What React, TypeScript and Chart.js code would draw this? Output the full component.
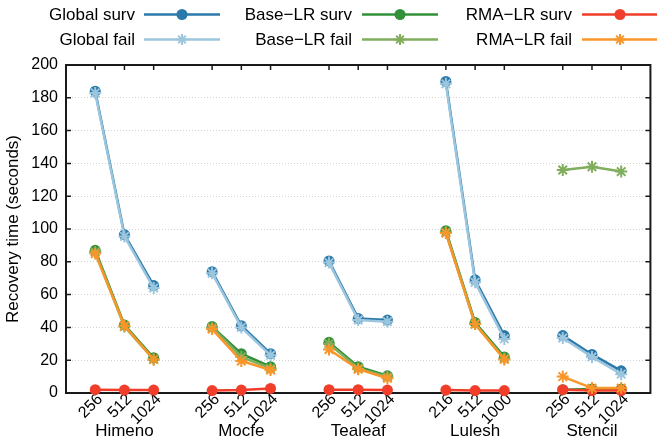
import React, { useEffect, useRef } from 'react';
import { Chart, registerables } from 'chart.js';

Chart.register(...registerables);

const FONT = '"Liberation Sans", Arial, Helvetica, sans-serif';

const groups = ['Himeno', 'Mocfe', 'Tealeaf', 'Lulesh', 'Stencil'];
const sizeLabels = [
  ['256', '512', '1024'],
  ['256', '512', '1024'],
  ['256', '512', '1024'],
  ['216', '512', '1000'],
  ['256', '512', '1024'],
];

const globalSurv = [[184, 96.5, 65.5], [74, 41, 24], [80.5, 45.5, 44.5], [190, 69, 35], [35, 23.5, 13.5]];
const globalFail = [[183, 95.5, 64], [73, 40, 23], [79.5, 44.5, 43.5], [188.5, 67.5, 33], [33.5, 22, 11.5]];
const baseSurv = [[87, 41.5, 21.5], [40.5, 24, 16], [31, 16, 10.5], [99, 43, 22], [2, 2.5, 2.5]];
const baseFail = [[86, 40.5, 20.5], [40, 22, 15], [30, 15, 10], [98, 42, 21], [136, 138, 135]];
const rmaSurv = [[2, 1.8, 1.8], [1.5, 1.8, 2.8], [2, 2, 1.8], [1.8, 1.5, 1.5], [2, 1.5, 1.5]];
const rmaFail = [[85, 41, 20.5], [39, 19.5, 14], [26.5, 14.5, 9], [97.5, 42, 20.5], [10, 3, 3]];

const seriesNames = ['Global surv', 'Global fail', 'Base\u2212LR surv', 'Base\u2212LR fail', 'RMA\u2212LR surv', 'RMA\u2212LR fail'];
const seriesColors = ['#2a79aa', '#9cc6de', '#33903a', '#80ae5c', '#f03e2a', '#f8962a'];
const seriesData = [globalSurv, globalFail, baseSurv, baseFail, rmaSurv, rmaFail];

function buildLabels(): string[] {
  const out: string[] = [''];
  sizeLabels.forEach((g) => {
    g.forEach((l) => out.push(l));
    out.push('');
  });
  return out;
}

function buildValues(vals: number[][]): (number | null)[] {
  const out: (number | null)[] = [null];
  vals.forEach((g) => {
    g.forEach((v) => out.push(v));
    out.push(null);
  });
  return out;
}

function drawMarker(ctx: CanvasRenderingContext2D, x: number, y: number, isStar: boolean, color: string) {
  ctx.save();
  if (isStar) {
    const r = 5.5;
    ctx.strokeStyle = color;
    ctx.lineWidth = 2;
    ctx.beginPath();
    for (let k = 0; k < 4; k++) {
      const a = (k * Math.PI) / 4;
      ctx.moveTo(x - r * Math.cos(a), y - r * Math.sin(a));
      ctx.lineTo(x + r * Math.cos(a), y + r * Math.sin(a));
    }
    ctx.stroke();
  } else {
    ctx.fillStyle = color;
    ctx.beginPath();
    ctx.arc(x, y, 5.5, 0, Math.PI * 2);
    ctx.fill();
  }
  ctx.restore();
}

const framePlugin = {
  id: 'frame',
  beforeDatasetsDraw(chart: any) {
    const { ctx, chartArea } = chart;
    const { left, right, top, bottom } = chartArea;
    const xs = chart.scales.x;
    const ys = chart.scales.y;
    ctx.save();
    ctx.strokeStyle = '#1a1a1a';
    ctx.lineWidth = 1.5;
    ctx.beginPath();
    for (let v = 20; v < 200; v += 20) {
      const py = ys.getPixelForValue(v);
      ctx.moveTo(left, py);
      ctx.lineTo(left + 5, py);
      ctx.moveTo(right, py);
      ctx.lineTo(right - 5, py);
    }
    const labels = chart.data.labels as string[];
    labels.forEach((l, i) => {
      if (!l) return;
      const px = xs.getPixelForValue(i);
      ctx.moveTo(px, top);
      ctx.lineTo(px, top + 5);
      ctx.moveTo(px, bottom);
      ctx.lineTo(px, bottom - 5);
    });
    ctx.stroke();
    ctx.lineWidth = 2;
    ctx.beginPath();
    ctx.rect(left, top, right - left, bottom - top);
    ctx.stroke();
    ctx.restore();
  },
  afterDraw(chart: any) {
    const { ctx } = chart;
    const xs = chart.scales.x;
    ctx.save();
    ctx.fillStyle = '#000';
    ctx.font = `17px ${FONT}`;
    ctx.textAlign = 'center';
    ctx.textBaseline = 'alphabetic';
    let idx = 0;
    groups.forEach((g) => {
      const mid = idx + 2;
      ctx.fillText(g, xs.getPixelForValue(mid), 436);
      idx += 4;
    });
    const textRight = [135, 352, 572];
    const lineStart = [144, 362, 582];
    const rowY = [14.5, 39.5];
    const lineLen = 76;
    chart.data.datasets.forEach((ds: any, i: number) => {
      const col = Math.floor(i / 2);
      const row = i % 2;
      const y = rowY[row];
      ctx.fillStyle = '#000';
      ctx.font = `17px ${FONT}`;
      ctx.textAlign = 'right';
      ctx.textBaseline = 'middle';
      ctx.fillText(ds.label, textRight[col], y + 1);
      ctx.strokeStyle = ds.borderColor;
      ctx.lineWidth = 2.5;
      ctx.beginPath();
      ctx.moveTo(lineStart[col], y);
      ctx.lineTo(lineStart[col] + lineLen, y);
      ctx.stroke();
      drawMarker(ctx, lineStart[col] + lineLen / 2, y, row === 1, ds.borderColor);
    });
    ctx.restore();
  },
};

export default function App() {
  const canvasRef = useRef<HTMLCanvasElement | null>(null);

  useEffect(() => {
    document.body.style.margin = '0';
    const canvas = canvasRef.current;
    if (!canvas) return;
    const labels = buildLabels();
    const datasets = seriesData.map((vals, i) => {
      const isStar = i % 2 === 1;
      return {
        label: seriesNames[i],
        data: buildValues(vals),
        borderColor: seriesColors[i],
        backgroundColor: seriesColors[i],
        pointBackgroundColor: seriesColors[i],
        pointBorderColor: seriesColors[i],
        pointStyle: isStar ? 'star' : 'circle',
        pointRadius: isStar ? 6 : 5.5,
        pointBorderWidth: isStar ? 2 : 0,
        borderWidth: 2.5,
        spanGaps: false,
        tension: 0,
        fill: false,
        clip: false as any,
        order: 6 - i,
      };
    });
    const chart = new Chart(canvas, {
      type: 'line',
      data: { labels, datasets },
      options: {
        animation: false,
        responsive: false,
        devicePixelRatio: 1,
        layout: { padding: { top: 65, left: 0, right: 0, bottom: 0 } },
        plugins: {
          legend: { display: false },
          tooltip: { enabled: false },
        },
        scales: {
          x: {
            type: 'category',
            offset: false,
            grid: { display: false, drawTicks: false },
            border: { display: false },
            ticks: {
              autoSkip: false,
              maxRotation: 45,
              minRotation: 45,
              padding: -3,
              labelOffset: 5,
              color: '#000',
              font: { family: FONT, size: 16 },
            },
            afterFit: (s: any) => {
              s.height = 50;
            },
          },
          y: {
            min: 0,
            max: 200,
            ticks: {
              stepSize: 20,
              padding: 8,
              color: '#000',
              font: { family: FONT, size: 16 },
            },
            grid: {
              drawTicks: false,
              lineWidth: 1,
              color: (c: any) =>
                c.tick && (c.tick.value === 0 || c.tick.value === 200) ? 'rgba(0,0,0,0)' : '#d2d2d2',
              borderDash: [1, 2],
            } as any,
            border: { display: false, dash: [1, 2] },
            title: {
              display: true,
              text: 'Recovery time (seconds)',
              color: '#000',
              font: { family: FONT, size: 17 },
              padding: { top: 3, bottom: 0 },
            },
            afterFit: (s: any) => {
              s.width = 66;
            },
          },
        },
      },
      plugins: [framePlugin],
    });
    return () => chart.destroy();
  }, []);

  return (
    <div style={{ width: 657, height: 443, overflow: 'hidden', position: 'relative' }}>
      <canvas ref={canvasRef} width={661} height={443} style={{ width: 661, height: 443, display: 'block' }} />
    </div>
  );
}
